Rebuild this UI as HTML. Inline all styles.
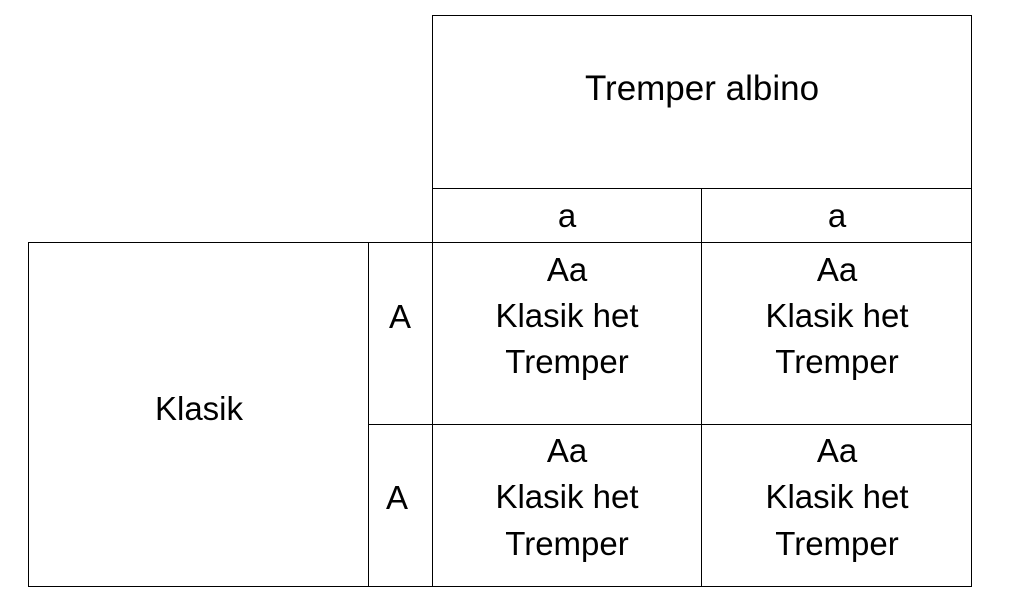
<!DOCTYPE html>
<html><head><meta charset="utf-8"><style>
body{margin:0;width:1021px;height:614px;background:#fff;position:relative;overflow:hidden;font-family:"Liberation Sans",sans-serif;color:#000}
.h{position:absolute;height:1px;background:#000}
.v{position:absolute;width:1px;background:#000}
.t{position:absolute;font-size:33px;line-height:36px;transform:translate(-50%,-50%);white-space:nowrap}
</style></head><body>
<div class="h" style="left:432px;top:15px;width:540px"></div>
<div class="h" style="left:432px;top:188px;width:540px"></div>
<div class="h" style="left:28px;top:242px;width:944px"></div>
<div class="h" style="left:368px;top:424px;width:604px"></div>
<div class="h" style="left:28px;top:586px;width:944px"></div>
<div class="v" style="left:432px;top:15px;height:572px"></div>
<div class="v" style="left:971px;top:15px;height:572px"></div>
<div class="v" style="left:701px;top:188px;height:399px"></div>
<div class="v" style="left:28px;top:242px;height:345px"></div>
<div class="v" style="left:368px;top:242px;height:345px"></div>

<div class="t" style="left:702px;top:89px;font-size:35px">Tremper albino</div>
<div class="t" style="left:567px;top:216px">a</div>
<div class="t" style="left:837px;top:216px">a</div>
<div class="t" style="left:400px;top:317px">A</div>
<div class="t" style="left:397px;top:498px">A</div>
<div class="t" style="left:199px;top:409px">Klasik</div>

<div class="t" style="left:567px;top:270px">Aa</div>
<div class="t" style="left:567px;top:316px">Klasik het</div>
<div class="t" style="left:567px;top:362px">Tremper</div>
<div class="t" style="left:837px;top:270px">Aa</div>
<div class="t" style="left:837px;top:316px">Klasik het</div>
<div class="t" style="left:837px;top:362px">Tremper</div>
<div class="t" style="left:567px;top:451px">Aa</div>
<div class="t" style="left:567px;top:497px">Klasik het</div>
<div class="t" style="left:567px;top:544px">Tremper</div>
<div class="t" style="left:837px;top:451px">Aa</div>
<div class="t" style="left:837px;top:497px">Klasik het</div>
<div class="t" style="left:837px;top:544px">Tremper</div>
</body></html>
